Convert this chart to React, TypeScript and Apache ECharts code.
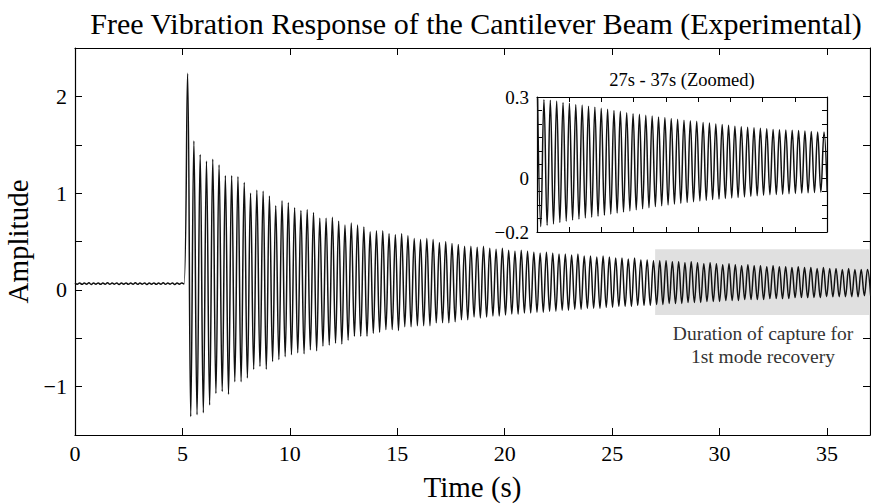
import React, { useEffect, useRef } from 'react';
import * as echarts from 'echarts';

// ---------- data ----------
const chartTitle = 'Free Vibration Response of the Cantilever Beam (Experimental)';
const insetTitle = '27s - 37s (Zoomed)';
const xAxisName = 'Time (s)';
const yAxisName = 'Amplitude';
const annotationLines = ['Duration of capture for', '1st mode recovery'];

// pre-trigger baseline wiggle, one value per half cycle starting at t = 0
const PRE_STEP = 0.108;
const preTriggerValues = [
  0.07, 0.058, 0.072, 0.057, 0.071, 0.059, 0.073, 0.056, 0.07, 0.058, 0.072, 0.057,
  0.071, 0.058, 0.073, 0.057, 0.07, 0.059, 0.072, 0.056, 0.071, 0.058, 0.072, 0.057,
  0.07, 0.058, 0.073, 0.057, 0.071, 0.059, 0.072, 0.056, 0.07, 0.058, 0.072, 0.057,
  0.071, 0.058, 0.073, 0.057, 0.07, 0.059, 0.072, 0.056, 0.071, 0.058, 0.072, 0.06,
];

// free response: one peak and one trough per cycle
const START_TIME = 5.24;
const CYCLE_PERIOD = 0.293;
const mainPeaks = [
  2.24, 1.54, 1.4, 1.33, 1.35, 1.29, 1.18, 1.18, 1.17, 1.11, 1.0, 1.03, 1.02, 0.97, 0.87,
  0.92, 0.9, 0.85, 0.82, 0.83, 0.8, 0.74, 0.74, 0.75, 0.71, 0.67, 0.69, 0.67, 0.65, 0.6,
  0.61, 0.61, 0.58, 0.57, 0.58, 0.56, 0.53, 0.52, 0.53, 0.52, 0.49, 0.5, 0.48, 0.47, 0.45, 0.45,
  0.44, 0.45, 0.43, 0.42, 0.43, 0.41, 0.4, 0.41, 0.4,
  0.39, 0.38, 0.39, 0.38, 0.37, 0.37, 0.36, 0.37, 0.35, 0.35,
  0.34, 0.35, 0.34, 0.33, 0.33, 0.32, 0.33, 0.31, 0.31, 0.3,
  0.3, 0.3, 0.29, 0.29, 0.28, 0.29, 0.28, 0.27, 0.28, 0.27,
  0.26, 0.27, 0.26, 0.25, 0.26, 0.25, 0.25, 0.24, 0.25, 0.24,
  0.24, 0.23, 0.24, 0.23, 0.23, 0.22, 0.23, 0.22, 0.22, 0.21, 0.22, 0.21, 0.21, 0.21,
];
const mainTroughs = [
  -1.31, -1.29, -1.27, -1.19, -1.07, -1.05, -1.08, -0.95, -0.95, -0.91, -0.82, -0.79, -0.82, -0.74, -0.72,
  -0.69, -0.67, -0.65, -0.66, -0.62, -0.63, -0.58, -0.57, -0.55, -0.56, -0.52, -0.48, -0.48, -0.48, -0.45,
  -0.44, -0.41, -0.41, -0.42, -0.38, -0.38, -0.37, -0.37, -0.37, -0.34, -0.34, -0.34, -0.33, -0.31, -0.31, -0.28,
  -0.29, -0.28, -0.27, -0.27, -0.26, -0.25, -0.25, -0.24, -0.24,
  -0.23, -0.23, -0.22, -0.22, -0.21, -0.21, -0.2, -0.2, -0.19, -0.19,
  -0.19, -0.18, -0.18, -0.17, -0.17, -0.17, -0.16, -0.16, -0.16, -0.15,
  -0.15, -0.14, -0.14, -0.14, -0.13, -0.13, -0.13, -0.12, -0.12, -0.12,
  -0.11, -0.11, -0.11, -0.1, -0.1, -0.1, -0.1, -0.09, -0.09, -0.09,
  -0.09, -0.08, -0.08, -0.08, -0.08, -0.08, -0.07, -0.07, -0.07, -0.07, -0.07, -0.07, -0.06, -0.06,
];

// zoomed inset, 27 s - 37 s
const INSET_START = 27;
const INSET_PERIOD = 0.2195;
const insetPeaks = [
  0.295, 0.29, 0.288, 0.285, 0.28, 0.277, 0.272, 0.27, 0.266, 0.262,
  0.258, 0.255, 0.25, 0.247, 0.242, 0.238, 0.236, 0.232, 0.23, 0.226,
  0.224, 0.22, 0.218, 0.214, 0.212, 0.21, 0.206, 0.204, 0.2, 0.198,
  0.195, 0.192, 0.19, 0.188, 0.186, 0.184, 0.182, 0.18, 0.179, 0.178,
  0.177, 0.176, 0.174, 0.172, 0.17, 0.17,
];
const insetTroughs = [
  -0.18, -0.175, -0.17, -0.165, -0.16, -0.156, -0.152, -0.148, -0.145, -0.142,
  -0.138, -0.134, -0.13, -0.126, -0.122, -0.118, -0.114, -0.11, -0.106, -0.103,
  -0.1, -0.097, -0.094, -0.091, -0.088, -0.085, -0.083, -0.08, -0.078, -0.076,
  -0.074, -0.072, -0.07, -0.068, -0.066, -0.064, -0.062, -0.061, -0.06, -0.058,
  -0.057, -0.056, -0.055, -0.054, -0.052, -0.05,
];

// shaded capture window
const captureWindow = [27, 37];
const captureBand = [-0.26, 0.42];

// axis ranges / ticks
const mainX = { min: 0, max: 37, interval: 5 };
const mainY = { min: -1.5, max: 2.5, interval: 0.5 };
const insetX = { min: 27, max: 37, interval: 10 / 9 };
const insetY = { min: -0.2, max: 0.3, interval: 0.05 };
const insetYLabels = [0.3, 0, -0.2];

// ---------- build series data ----------
const mainData: number[][] = [];
preTriggerValues.forEach((v, i) => mainData.push([i * PRE_STEP, v]));
mainPeaks.forEach((p, k) => {
  mainData.push([START_TIME + k * CYCLE_PERIOD, p]);
  mainData.push([START_TIME + (k + 0.5) * CYCLE_PERIOD, mainTroughs[k]]);
});
const insetData: number[][] = [];
insetPeaks.forEach((p, k) => {
  insetData.push([INSET_START + 0.02 + k * INSET_PERIOD, p]);
  insetData.push([INSET_START + 0.02 + (k + 0.5) * INSET_PERIOD, insetTroughs[k]]);
});

const FONT = "'Liberation Serif', 'Times New Roman', serif";
const minus = (v: number) => (v < 0 ? '\u2212' + String(Math.abs(v)) : String(v));
const AXIS_LINE = { show: true, onZero: false, lineStyle: { color: '#000', width: 1.2 } };

function xAx(gridIndex: number, r: any, position: string, labels: boolean, extra: any = {}) {
  return {
    type: 'value', gridIndex, position, min: r.min, max: r.max, interval: r.interval,
    axisLine: AXIS_LINE,
    axisTick: { show: true, inside: true, length: gridIndex === 0 ? 7 : 5, lineStyle: { color: '#000', width: 1 } },
    axisLabel: labels
      ? {
          show: true, color: '#000', fontFamily: FONT, fontSize: 22, margin: 7,
          formatter: (v: number) => (Math.abs(v % 5) < 1e-6 ? String(v) : ''),
        }
      : { show: false },
    splitLine: { show: false },
    ...extra,
  };
}
function yAx(gridIndex: number, r: any, position: string, labelFn: any, extra: any = {}) {
  return {
    type: 'value', gridIndex, position, min: r.min, max: r.max, interval: r.interval,
    axisLine: AXIS_LINE,
    axisTick: { show: true, inside: true, length: gridIndex === 0 ? 7 : 5, lineStyle: { color: '#000', width: 1 } },
    axisLabel: labelFn
      ? { show: true, color: '#000', fontFamily: FONT, fontSize: gridIndex === 0 ? 22 : 19, margin: 8, formatter: labelFn }
      : { show: false },
    splitLine: { show: false },
    ...extra,
  };
}

export default function App() {
  const ref = useRef<HTMLDivElement>(null);
  useEffect(() => {
    const chart = echarts.init(ref.current!, null, { renderer: 'svg' });
    const option: any = {
      animation: false,
      backgroundColor: '#fff',
      grid: [
        { left: 75, right: 1, top: 48, bottom: 69, containLabel: false, outerBoundsMode: 'none' },
        {
          left: 537, right: 44, top: 97, bottom: 272, show: true, backgroundColor: '#fff', borderWidth: 0, z: 5,
          containLabel: false, outerBoundsMode: 'none',
        },
      ],
      xAxis: [
        xAx(0, mainX, 'bottom', true, {
          name: xAxisName, nameLocation: 'middle', nameGap: 37,
          nameTextStyle: { fontFamily: FONT, fontSize: 29, color: '#000' },
        }),
        xAx(0, mainX, 'top', false),
        xAx(1, insetX, 'bottom', false, { z: 6 }),
        xAx(1, insetX, 'top', false, { z: 6 }),
      ],
      yAxis: [
        yAx(0, mainY, 'left', (v: number) => (Math.abs(v - Math.round(v)) < 1e-6 ? minus(Math.round(v)) : ''), {
          name: yAxisName, nameLocation: 'middle', nameGap: 38,
          nameTextStyle: { fontFamily: FONT, fontSize: 29, color: '#000' },
        }),
        yAx(0, mainY, 'right', null),
        yAx(1, insetY, 'left', (v: number) => {
          const r = Math.round(v * 100) / 100;
          return insetYLabels.some((l) => Math.abs(l - r) < 1e-6) ? minus(r) : '';
        }, { z: 6 }),
        yAx(1, insetY, 'right', null, { z: 6 }),
      ],
      series: [
        {
          type: 'line', xAxisIndex: 0, yAxisIndex: 0, data: mainData,
          showSymbol: false, symbol: 'none', smooth: 0.4,
          lineStyle: { color: '#111', width: 1.5 },
          markArea: {
            silent: true,
            itemStyle: { color: '#e0e0e0' },
            data: [[{ xAxis: captureWindow[0], yAxis: captureBand[0] }, { xAxis: captureWindow[1], yAxis: captureBand[1] }]],
          },
        },
        {
          type: 'line', xAxisIndex: 2, yAxisIndex: 2, data: insetData, z: 6,
          showSymbol: false, symbol: 'none', smooth: 0.4,
          lineStyle: { color: '#111', width: 1.5 },
        },
      ],
      graphic: [
        { type: 'text', x: 476, y: 23, style: { text: chartTitle, fontFamily: FONT, fontSize: 30, fill: '#000', textAlign: 'center', textVerticalAlign: 'middle' } },
        { type: 'text', x: 682, y: 80, z: 10, style: { text: insetTitle, fontFamily: FONT, fontSize: 18.5, fill: '#000', textAlign: 'center', textVerticalAlign: 'middle' } },
        { type: 'text', x: 763, y: 333, style: { text: annotationLines[0], fontFamily: FONT, fontSize: 19.5, fill: '#333', textAlign: 'center', textVerticalAlign: 'middle' } },
        { type: 'text', x: 763, y: 356, style: { text: annotationLines[1], fontFamily: FONT, fontSize: 19.5, fill: '#333', textAlign: 'center', textVerticalAlign: 'middle' } },
      ],
    };
    chart.setOption(option);
    return () => chart.dispose();
  }, []);
  return <div ref={ref} style={{ position: 'fixed', left: 0, top: 0, width: 871, height: 504, background: '#fff' }} />;
}
